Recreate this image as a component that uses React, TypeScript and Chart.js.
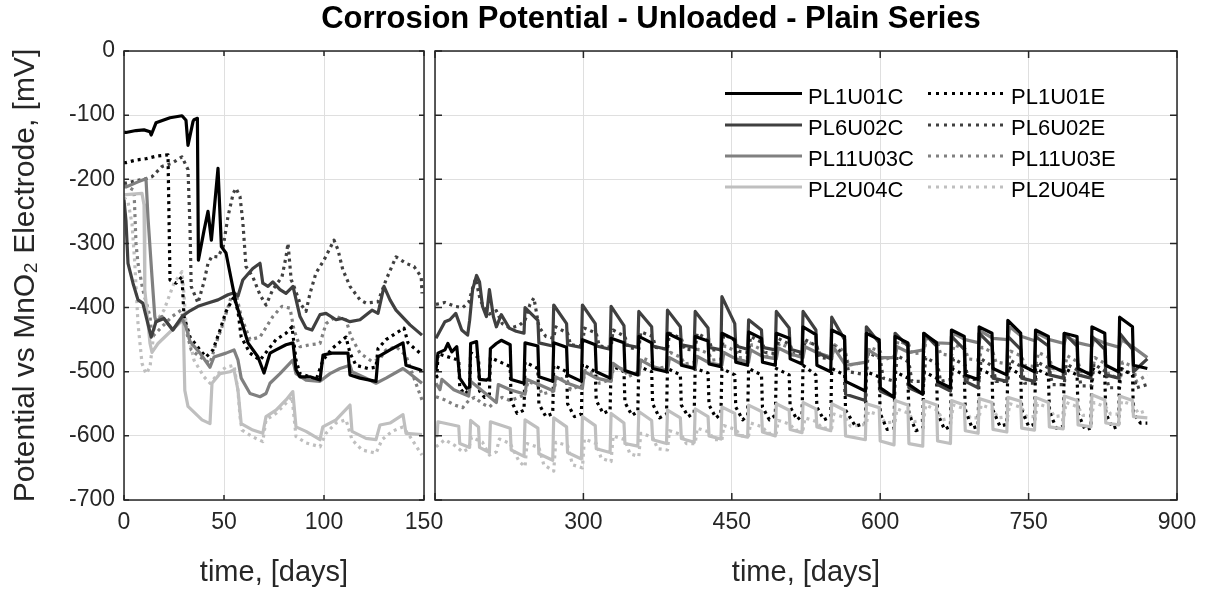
import React, { useEffect, useRef } from 'react';
import { Chart, registerables } from 'chart.js';

Chart.register(...registerables);

const FONT = "'Liberation Sans', Arial, Helvetica, sans-serif";
const TITLE = 'Corrosion Potential - Unloaded - Plain Series';
const X_TITLE = 'time, [days]';
const Y_TITLE = 'Potential vs MnO\u2082 Electrode, [mV]';
const LEFT_X_TICKS = [0, 50, 100, 150];
const RIGHT_X_TICKS = [150, 300, 450, 600, 750, 900];
const RIGHT_X_HIDDEN_LABELS = [150];
const Y_TICKS = [0, -100, -200, -300, -400, -500, -600, -700];

const SERIES_NAMES = ['PL1U01C', 'PL6U02C', 'PL11U03C', 'PL2U04C', 'PL1U01E', 'PL6U02E', 'PL11U03E', 'PL2U04E'];
const SERIES_COLORS = ['#000000', '#404040', '#808080', '#bfbfbf', '#000000', '#404040', '#808080', '#bfbfbf'];
const SERIES_DOTTED = [false, false, false, false, true, true, true, true];

type P = [number, number];

const PL1U01C: P[] = [
  [0,-127],[1,-127],[6,-124],[10,-123],[13,-126],[13.6,-131],[16,-112],[23,-104],[29,-101],[31,-108],[32,-147],[34.5,-110],[35,-107],[36.7,-105],[37.2,-326],[40,-280],[42,-250],[43.7,-295],[47,-183],[48.7,-305],[51,-315],[54,-362],[56,-393],[59,-424],[62,-455],[67,-477],[70,-502],[73,-471],[76,-466],[81,-458],[84.5,-455],[86,-497],[88,-508],[93,-508],[98,-513],[99.5,-474],[104,-471],[112,-471],[113,-505],[118,-510],[126,-515],[127,-477],[133,-466],[139.5,-455],[141,-490],[148,-497],[149,-499],
  [151,-497],[153,-471],[160,-466],[163,-456],[167,-469],[172,-461],[175,-510],[182,-526],[185,-524],[186,-456],[192,-453],[195,-512],[202,-513],[205,-510],[206,-464],[212,-456],[217,-451],[226,-458],[227,-512],[240,-518],
  [241,-455],[254,-460],[255,-508],[269,-515],[270,-455],[283,-462],[284,-505],[298,-515],[299,-450],[312,-458],[313,-500],[327,-510],
  [328,-448],[341,-455],[342,-498],[355,-505],[356,-445],[369,-455],[370,-495],[384,-500],[385,-440],[398,-450],[399,-490],[412,-495],
  [413,-445],[426,-452],[427,-488],[439,-492],[440,-440],[453,-450],[454,-485],[466,-490],[467,-438],[480,-448],[481,-485],[494,-490],
  [495,-440],[508,-448],[509,-480],[521,-488],[522,-430],[535,-442],[536,-490],[550,-500],[551,-435],[564,-445],[565,-515],[585,-530],
  [586,-440],[599,-450],[600,-525],[614,-540],[615,-445],[628,-455],[629,-520],[643,-535],[644,-440],[657,-455],[658,-515],[671,-525],
  [672,-435],[685,-445],[686,-505],[699,-512],[700,-430],[713,-440],[714,-495],[728,-505],[729,-420],[742,-440],[743,-490],[756,-500],
  [757,-435],[770,-445],[771,-490],[785,-500],[786,-440],[799,-445],[800,-495],[813,-505],[814,-430],[827,-440],[828,-490],[841,-500],
  [842,-415],[855,-430],[856,-490],[870,-495],
];

const PL6U02C: P[] = [
  [0,-232],[1,-265],[2,-331],[4.5,-362],[7,-388],[9.4,-393],[13.6,-446],[16,-422],[20,-417],[24.4,-435],[29,-414],[33,-405],[37,-398],[42,-393],[47,-388],[52,-380],[55,-377],[57,-382],[59.4,-357],[64.4,-339],[68,-331],[69.4,-362],[72,-367],[74.4,-360],[78,-372],[81,-378],[84.5,-367],[88,-414],[91,-432],[94,-435],[98,-411],[101,-409],[106,-419],[109,-417],[113,-422],[118,-419],[124,-404],[127,-409],[130,-367],[133,-388],[136,-404],[143,-427],[149,-443],
  [151,-448],[160,-422],[165,-419],[171,-409],[177,-435],[183,-443],[185,-420],[188,-372],[192,-350],[195,-360],[198,-398],[202,-414],[205,-372],[209,-414],[212,-430],[217,-411],[225,-432],[232,-437],[240,-440],
  [241,-400],[254,-420],[255,-455],[269,-460],[270,-396],[283,-425],[284,-458],[298,-462],[299,-396],[312,-425],[313,-460],[327,-465],
  [328,-398],[341,-428],[342,-458],[355,-462],[356,-406],[369,-430],[370,-460],[384,-465],[385,-404],[398,-430],[399,-458],[412,-462],
  [413,-406],[426,-432],[427,-462],[439,-466],[440,-383],[453,-425],[454,-460],[466,-465],[467,-419],[480,-435],[481,-462],[494,-466],
  [495,-406],[508,-432],[509,-465],[521,-470],[522,-406],[535,-435],[536,-470],[550,-480],[551,-415],[564,-450],[565,-535],[585,-545],
  [586,-430],[599,-455],[600,-530],[614,-540],[615,-440],[628,-460],[629,-525],[643,-535],[644,-440],[657,-460],[658,-520],[671,-530],
  [672,-445],[685,-465],[686,-515],[699,-525],[700,-440],[713,-460],[714,-510],[728,-515],[729,-445],[742,-465],[743,-510],[756,-515],
  [757,-445],[770,-460],[771,-505],[785,-510],[786,-440],[799,-460],[800,-505],[813,-510],[814,-445],[827,-465],[828,-505],[841,-510],
  [842,-440],[855,-465],[856,-500],[870,-480],
];

const PL11U03C: P[] = [
  [0,-212],[1,-212],[7,-204],[11,-199],[12,-260],[14,-352],[15.4,-414],[16,-422],[19,-414],[24.4,-435],[29,-417],[31,-430],[33,-453],[38,-471],[43,-493],[45,-477],[51,-471],[55,-466],[57,-482],[58.6,-510],[63,-534],[68,-539],[71,-534],[73,-518],[78,-503],[84.4,-482],[86,-503],[91,-513],[98,-515],[103,-503],[108,-495],[113,-490],[114,-500],[121,-510],[126,-518],[131,-510],[139.5,-495],[143,-503],[149,-518],
  [151,-518],[155,-528],[157,-512],[169,-528],[184,-538],[186,-515],[198,-530],[212,-548],[214,-520],[226,-528],[241,-535],[243,-512],[255,-520],
  [270,-530],[272,-508],[284,-518],[299,-526],[301,-500],[313,-510],[328,-515],[330,-487],[342,-500],[356,-505],[358,-482],[370,-492],
  [385,-498],[387,-478],[399,-488],[413,-495],[415,-476],[427,-486],[440,-490],[442,-470],[454,-480],[467,-485],[469,-466],[481,-476],
  [495,-480],[497,-463],[509,-472],[522,-478],[524,-461],[536,-470],[551,-478],[553,-462],[565,-490],[586,-485],[588,-466],[600,-478],
  [615,-478],[617,-461],[629,-470],[644,-466],[646,-445],[658,-455],[672,-456],[674,-440],[686,-450],[700,-455],[702,-437],[714,-448],
  [729,-450],[731,-430],[743,-445],[757,-452],[759,-440],[771,-450],[786,-456],[788,-445],[800,-455],[814,-460],[816,-448],[828,-456],
  [842,-462],[844,-450],[856,-462],[870,-478],
];

const PL2U04C: P[] = [
  [0,-224],[1,-224],[9,-222],[10,-240],[10.4,-372],[13,-456],[14,-470],[17,-456],[24,-435],[29.6,-419],[30.4,-529],[32,-554],[39,-575],[43,-581],[44,-518],[48,-503],[53,-500],[55,-497],[57,-529],[58.6,-581],[64.4,-591],[69.4,-596],[71,-570],[76,-560],[81,-544],[84.4,-531],[86,-586],[91,-593],[98,-606],[99.4,-586],[106,-575],[113,-552],[114,-593],[121,-604],[126,-606],[128,-583],[133,-580],[139.5,-567],[141,-596],[149,-598],
  [151,-600],[152,-600],[153,-578],[174,-585],[175,-612],[185,-618],[186,-576],[194,-586],[195,-618],[205,-626],[206,-578],[226,-588],[227,-622],[240,-632],
  [241,-575],[254,-588],[255,-628],[269,-638],[270,-572],[283,-586],[284,-626],[298,-636],[299,-570],[312,-584],[313,-620],[327,-626],
  [328,-565],[341,-580],[342,-612],[355,-616],[356,-562],[369,-576],[370,-606],[384,-612],[385,-560],[398,-572],[399,-604],[412,-610],
  [413,-558],[426,-570],[427,-600],[439,-605],[440,-555],[453,-565],[454,-598],[466,-602],[467,-552],[480,-562],[481,-594],[494,-600],
  [495,-550],[508,-560],[509,-590],[521,-595],[522,-548],[535,-558],[536,-586],[550,-592],[551,-550],[564,-560],[565,-600],[585,-606],
  [586,-550],[599,-556],[600,-608],[614,-614],[615,-545],[628,-552],[629,-612],[643,-616],[644,-545],[657,-552],[658,-608],[671,-612],
  [672,-545],[685,-552],[686,-592],[699,-596],[700,-542],[713,-548],[714,-590],[728,-594],[729,-540],[742,-546],[743,-588],[756,-591],
  [757,-540],[770,-548],[771,-586],[785,-589],[786,-538],[799,-545],[800,-583],[813,-586],[814,-536],[827,-544],[828,-580],[841,-583],
  [842,-538],[855,-545],[856,-570],[870,-572],
];

const PL1U01E: P[] = [
  [0,-174],[1,-174],[6,-170],[11,-168],[16,-164],[22,-162],[23,-357],[26,-362],[29,-352],[30,-414],[33,-446],[38,-466],[41,-477],[44.5,-466],[48,-435],[51,-406],[55,-383],[57,-406],[58.6,-446],[63,-471],[68,-482],[72,-466],[76,-450],[81,-440],[84,-430],[86,-482],[88,-503],[93,-508],[96,-513],[99.5,-482],[104,-464],[111,-446],[113,-471],[116,-490],[122,-495],[126,-493],[127,-464],[131,-450],[140,-432],[142,-455],[148,-471],[149,-475],
  [151,-505],[152,-508],[153,-472],[174,-482],[175,-525],[180,-535],[185,-528],[186,-470],[194,-478],[195,-530],[200,-540],[205,-535],[206,-478],[226,-492],[227,-545],[233,-565],[240,-560],
  [241,-485],[254,-495],[255,-550],[262,-570],[269,-565],[270,-490],[283,-500],[284,-550],[291,-570],[298,-566],
  [299,-488],[312,-500],[313,-545],[320,-565],[327,-560],[328,-490],[341,-500],[342,-548],[349,-568],[355,-562],
  [356,-492],[369,-500],[370,-550],[377,-572],[384,-566],[385,-495],[398,-505],[399,-552],[406,-570],[412,-564],
  [413,-495],[426,-502],[427,-552],[434,-572],[439,-566],[440,-495],[453,-505],[454,-555],[461,-575],[466,-568],
  [467,-495],[480,-505],[481,-555],[488,-575],[494,-568],[495,-495],[508,-505],[509,-555],[516,-575],[521,-568],
  [522,-490],[535,-505],[536,-555],[543,-575],[550,-570],[551,-495],[564,-505],[565,-560],[575,-585],[585,-580],
  [586,-500],[599,-508],[600,-565],[607,-590],[614,-588],[615,-500],[628,-510],[629,-565],[636,-592],[643,-588],
  [644,-500],[657,-510],[658,-565],[665,-590],[671,-585],[672,-495],[685,-505],[686,-560],[693,-588],[699,-585],
  [700,-495],[713,-505],[714,-560],[721,-585],[728,-582],[729,-492],[742,-505],[743,-560],[750,-585],[756,-582],
  [757,-495],[770,-505],[771,-562],[778,-588],[785,-585],[786,-495],[799,-505],[800,-565],[807,-590],[813,-588],
  [814,-495],[827,-505],[828,-565],[835,-588],[841,-585],[842,-495],[855,-505],[856,-565],[863,-580],[870,-580],
];

const PL6U02E: P[] = [
  [0,-206],[1,-206],[5,-203],[11,-199],[14,-196],[19,-180],[24,-175],[29,-165],[32,-185],[33,-274],[33.6,-367],[37,-393],[40,-360],[42,-331],[44,-320],[47,-321],[49.6,-305],[52,-258],[54.6,-222],[56,-214],[58,-227],[59.4,-266],[61,-336],[64.4,-352],[68,-380],[71,-396],[74.4,-372],[79,-352],[81,-321],[82,-300],[83.6,-357],[84.4,-362],[88,-393],[91,-406],[93,-378],[96,-346],[100,-326],[105,-295],[107,-310],[109.4,-341],[113,-367],[118,-388],[121,-393],[127,-391],[131,-357],[136,-321],[141,-331],[145,-336],[148.6,-352],[149,-378],
  [151,-395],[160,-392],[170,-398],[178,-400],[184,-392],[188,-370],[191,-355],[196,-390],[205,-410],[212,-405],[218,-425],[226,-432],[235,-428],[241,-420],[246,-395],[250,-385],[255,-430],[262,-445],[270,-448],
  [272,-430],[284,-440],[287,-458],[299,-460],[301,-432],[313,-440],[316,-460],[328,-462],[330,-435],[342,-445],[345,-462],
  [356,-465],[358,-438],[370,-445],[373,-462],[385,-465],[387,-440],[399,-448],[402,-465],[413,-466],[415,-440],[427,-450],[430,-466],
  [440,-466],[442,-442],[454,-452],[457,-468],[467,-470],[469,-445],[481,-455],[484,-470],[495,-472],[497,-448],[509,-458],[512,-472],
  [522,-475],[524,-450],[536,-460],[539,-478],[551,-480],[553,-460],[565,-475],[568,-500],[586,-505],[588,-470],[600,-480],[603,-510],
  [615,-515],[617,-475],[629,-485],[632,-515],[644,-515],[646,-478],[658,-488],[661,-515],[672,-512],[674,-480],[686,-490],[689,-512],
  [700,-512],[702,-480],[714,-492],[717,-515],[729,-515],[731,-482],[743,-492],[746,-518],[757,-518],[759,-485],[771,-495],[774,-520],
  [786,-520],[788,-488],[800,-498],[803,-522],[814,-522],[816,-488],[828,-500],[831,-525],[842,-525],[844,-495],[856,-505],[859,-525],
  [870,-520],
];

const PL11U03E: P[] = [
  [0,-210],[2,-212],[5,-217],[6,-300],[7,-331],[9.4,-372],[13,-414],[14,-446],[19,-430],[24,-414],[28.6,-404],[31,-435],[33.6,-466],[38,-477],[43,-487],[46,-456],[49,-430],[53.6,-383],[56,-378],[58.6,-414],[63,-450],[68,-446],[74.4,-414],[79,-398],[83,-401],[85,-435],[88,-461],[93,-458],[98,-456],[101,-425],[106,-414],[111,-419],[113.6,-446],[118,-471],[124,-484],[128,-480],[131,-466],[136,-461],[141,-475],[145,-510],[149,-544],
  [151,-539],[160,-544],[170,-552],[178,-556],[184,-545],[190,-540],[198,-550],[205,-555],[212,-545],[218,-540],[226,-545],[235,-540],
  [241,-535],[244,-515],[255,-522],[258,-535],[270,-530],[273,-508],[284,-515],[287,-528],[299,-520],[302,-498],[313,-505],[316,-518],
  [328,-512],[331,-490],[342,-498],[345,-508],[356,-500],[359,-478],[370,-485],[373,-495],[385,-492],[388,-470],[399,-478],[402,-488],
  [413,-485],[416,-465],[427,-472],[430,-482],[440,-480],[443,-460],[454,-468],[457,-478],[467,-478],[470,-458],[481,-466],[484,-476],
  [495,-475],[498,-456],[509,-463],[512,-474],[522,-472],[525,-452],[536,-460],[539,-472],[551,-478],[554,-458],[565,-470],[568,-490],
  [586,-485],[589,-462],[600,-468],[603,-482],[615,-475],[618,-452],[629,-458],[632,-472],[644,-470],[647,-448],[658,-455],[661,-472],
  [672,-475],[675,-458],[686,-465],[689,-480],[700,-482],[703,-462],[714,-470],[717,-485],[729,-488],[732,-468],[743,-476],[746,-490],
  [757,-492],[760,-470],[771,-478],[774,-495],[786,-498],[789,-475],[800,-485],[803,-500],[814,-502],[817,-478],[828,-488],[831,-505],
  [842,-510],[845,-485],[856,-492],[859,-515],[870,-505],
];

const PL2U04E: P[] = [
  [0,-228],[2,-235],[4,-269],[5.4,-331],[7,-425],[9,-487],[11,-503],[13,-493],[15.4,-425],[20,-404],[25,-362],[29,-344],[30,-380],[31,-425],[35,-482],[40,-508],[43,-518],[48,-500],[51,-493],[55,-490],[57,-530],[58,-570],[59,-591],[64,-601],[69.4,-609],[71,-575],[76,-565],[81,-549],[84,-539],[86,-601],[91,-611],[98,-617],[101,-596],[106,-580],[111,-575],[114,-606],[119,-622],[126,-627],[129,-606],[134,-593],[139.5,-586],[143,-601],[149,-630],
  [151,-617],[160,-606],[170,-615],[178,-625],[184,-620],[187,-602],[198,-610],[205,-630],[212,-625],[215,-605],[226,-612],[235,-640],
  [241,-648],[243,-612],[255,-618],[260,-645],[270,-655],[272,-610],[284,-615],[289,-645],[299,-650],[301,-605],[313,-612],[318,-635],
  [328,-640],[330,-600],[342,-606],[347,-628],[356,-632],[358,-596],[370,-602],[375,-620],[385,-622],[387,-592],[399,-598],[404,-612],
  [413,-612],[415,-588],[427,-594],[432,-606],[440,-606],[442,-584],[454,-590],[459,-600],[467,-600],[469,-580],[481,-586],[486,-596],
  [495,-596],[497,-576],[509,-582],[514,-592],[522,-590],[524,-572],[536,-578],[541,-588],[551,-588],[553,-566],[565,-572],[570,-585],
  [586,-582],[588,-562],[600,-568],[605,-580],[615,-578],[617,-558],[629,-565],[634,-578],[644,-575],[646,-552],[658,-560],[663,-575],
  [672,-572],[674,-552],[686,-558],[691,-572],[700,-572],[702,-552],[714,-558],[719,-572],[729,-570],[731,-550],[743,-556],[748,-570],
  [757,-570],[759,-550],[771,-556],[776,-570],[786,-568],[788,-548],[800,-555],[805,-568],[814,-568],[816,-548],[828,-555],[833,-566],
  [842,-566],[844,-546],[856,-552],[861,-565],[870,-560],
];

const SERIES_DATA: P[][] = [PL1U01C, PL6U02C, PL11U03C, PL2U04C, PL1U01E, PL6U02E, PL11U03E, PL2U04E];

const W = 1209;
const H = 590;
const GRID = '#dfdfdf';
const AXIS = '#262626';

const framePlugin = {
  id: 'frame',
  afterDatasetsDraw(chart: any, _args: any, opts: any) {
    const { ctx, chartArea: a, scales } = chart;
    const L = opts.tickLen || 5;
    ctx.save();
    ctx.strokeStyle = AXIS;
    ctx.lineWidth = 1.5;
    ctx.beginPath();
    for (const t of scales.x.ticks) {
      const px = scales.x.getPixelForValue(t.value);
      ctx.moveTo(px, a.bottom); ctx.lineTo(px, a.bottom - L);
      ctx.moveTo(px, a.top); ctx.lineTo(px, a.top + L);
    }
    for (const t of scales.y.ticks) {
      const py = scales.y.getPixelForValue(t.value);
      ctx.moveTo(a.left, py); ctx.lineTo(a.left + L, py);
      ctx.moveTo(a.right, py); ctx.lineTo(a.right - L, py);
    }
    ctx.stroke();
    ctx.strokeRect(a.left, a.top, a.right - a.left, a.bottom - a.top);
    ctx.restore();
  },
};

const LEGEND_COL_X = [725, 928];
const LEGEND_ROW_Y = [93.5, 125, 156, 187];

const legendPlugin = {
  id: 'panelLegend',
  afterDatasetsDraw(chart: any, _args: any, opts: any) {
    if (!opts.show) return;
    const ctx = chart.ctx;
    ctx.save();
    ctx.font = `22px ${FONT}`;
    ctx.textAlign = 'left';
    ctx.textBaseline = 'alphabetic';
    chart.data.datasets.forEach((ds: any, i: number) => {
      const x0 = LEGEND_COL_X[i < 4 ? 0 : 1];
      const y = LEGEND_ROW_Y[i % 4];
      ctx.strokeStyle = ds.borderColor;
      ctx.lineWidth = 3.2;
      ctx.lineCap = 'butt';
      ctx.setLineDash(ds.borderDash && ds.borderDash.length ? [3, 5] : []);
      ctx.beginPath();
      ctx.moveTo(x0, y);
      ctx.lineTo(x0 + 77, y);
      ctx.stroke();
      ctx.setLineDash([]);
      ctx.fillStyle = '#000000';
      ctx.fillText(ds.label, x0 + 83, y + 10);
    });
    ctx.restore();
  },
};

const titlePlugin = {
  id: 'bigTitle',
  afterDraw(chart: any, _args: any, opts: any) {
    if (!opts.show) return;
    const ctx = chart.ctx;
    ctx.save();
    ctx.font = `bold 31px ${FONT}`;
    ctx.fillStyle = '#000000';
    ctx.textAlign = 'center';
    ctx.textBaseline = 'alphabetic';
    ctx.fillText(TITLE, 651, 28);
    ctx.restore();
  },
};

function makeDatasets(lo: number, hi: number) {
  return SERIES_DATA.map((d, i) => ({
    label: SERIES_NAMES[i],
    data: d.filter((p) => p[0] >= lo && p[0] <= hi).map((p) => ({ x: p[0], y: p[1] })),
    borderColor: SERIES_COLORS[i],
    backgroundColor: SERIES_COLORS[i],
    borderWidth: 3.2,
    borderDash: SERIES_DOTTED[i] ? [3, 4] : [],
    borderCapStyle: 'butt',
    borderJoinStyle: 'round',
    pointRadius: 0,
    fill: false,
    tension: 0,
  }));
}

function baseOptions(xMin: number, xMax: number, xTicks: number[], padding: any, showY: boolean, plugins: any) {
  return {
    responsive: false,
    maintainAspectRatio: false,
    animation: false,
    devicePixelRatio: 1,
    events: [],
    layout: { padding },
    plugins: {
      legend: { display: false },
      tooltip: { enabled: false },
      title: { display: false },
      ...plugins,
    },
    scales: {
      x: {
        type: 'linear',
        min: xMin,
        max: xMax,
        afterBuildTicks: (s: any) => { s.ticks = xTicks.map((v) => ({ value: v })); },
        afterFit: (s: any) => { s.height = 90; },
        grid: { color: GRID, lineWidth: 1, drawTicks: false },
        border: { display: false },
        ticks: {
          autoSkip: false,
          maxRotation: 0,
          padding: 9,
          color: AXIS,
          font: { family: FONT, size: 23 },
          callback: (v: number) => (RIGHT_X_HIDDEN_LABELS.includes(v) && xMin === 150 ? '' : String(v)),
        },
        title: { display: true, text: X_TITLE, color: AXIS, font: { family: FONT, size: 29 }, padding: 0 },
      },
      y: {
        type: 'linear',
        min: -700,
        max: 0,
        afterBuildTicks: (s: any) => { s.ticks = Y_TICKS.map((v) => ({ value: v })); },
        afterFit: (s: any) => { s.width = showY ? 124 : 0; },
        grid: { color: GRID, lineWidth: 1, drawTicks: false },
        border: { display: false },
        ticks: {
          display: showY,
          padding: 9,
          color: AXIS,
          font: { family: FONT, size: 23 },
        },
        title: {
          display: showY,
          text: Y_TITLE,
          color: AXIS,
          font: { family: FONT, size: 30 },
          padding: { top: 8, bottom: 0 },
        },
      },
    },
  };
}

export default function App() {
  const leftRef = useRef<HTMLCanvasElement>(null);
  const rightRef = useRef<HTMLCanvasElement>(null);

  useEffect(() => {
    const left = new Chart(leftRef.current as HTMLCanvasElement, {
      type: 'line',
      data: { datasets: makeDatasets(0, 150) as any },
      options: baseOptions(0, 150, LEFT_X_TICKS, { left: 0, right: W - 424, top: 51, bottom: 0 }, true, {
        frame: { tickLen: 5 },
        panelLegend: { show: false },
        bigTitle: { show: false },
      }) as any,
      plugins: [framePlugin, legendPlugin, titlePlugin],
    });
    const right = new Chart(rightRef.current as HTMLCanvasElement, {
      type: 'line',
      data: { datasets: makeDatasets(150, 900) as any },
      options: baseOptions(150, 900, RIGHT_X_TICKS, { left: 435, right: W - 1177, top: 51, bottom: 0 }, false, {
        frame: { tickLen: 7 },
        panelLegend: { show: true },
        bigTitle: { show: true },
      }) as any,
      plugins: [framePlugin, legendPlugin, titlePlugin],
    });
    return () => {
      left.destroy();
      right.destroy();
    };
  }, []);

  const cstyle: React.CSSProperties = { position: 'absolute', left: 0, top: 0, width: W, height: H };
  return (
    <div style={{ position: 'fixed', left: 0, top: 0, width: W, height: H, background: '#ffffff', overflow: 'hidden' }}>
      <canvas ref={leftRef} width={W} height={H} style={cstyle} />
      <canvas ref={rightRef} width={W} height={H} style={cstyle} />
    </div>
  );
}
